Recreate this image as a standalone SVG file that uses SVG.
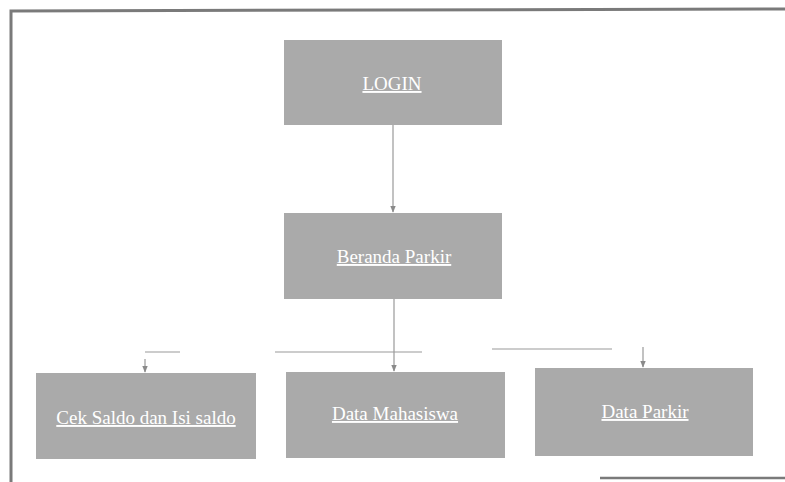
<svg xmlns="http://www.w3.org/2000/svg" width="785" height="482" viewBox="0 0 785 482">
<style>
.box{fill:#aaaaaa;}
.lbl{font-family:"Liberation Serif","Times New Roman",serif;font-size:19px;fill:#ffffff;text-anchor:middle;text-decoration:underline;}
.con{stroke:#999999;stroke-width:1.2;fill:none;}
.frame{stroke:#7a7a7a;stroke-width:3;fill:none;}
</style>
<defs>
<marker id="arr" viewBox="0 0 10 10" refX="9" refY="5" markerWidth="6" markerHeight="6" orient="auto">
<path d="M0,1 L10,5 L0,9 z" fill="#8a8a8a"/>
</marker>
</defs>
<rect width="785" height="482" fill="#ffffff"/>
<path class="frame" d="M11,482 L11,11 L785,9"/>
<line x1="600" y1="478" x2="785" y2="478" stroke="#7a7a7a" stroke-width="2.5"/>
<g id="connectors">
<line class="con" x1="393" y1="125" x2="393" y2="212" marker-end="url(#arr)"/>
<line class="con" x1="394" y1="299" x2="394" y2="371" marker-end="url(#arr)"/>
<line class="con" x1="145" y1="352" x2="180" y2="352"/>
<line class="con" x1="275" y1="352" x2="422" y2="352"/>
<line class="con" x1="492" y1="349" x2="612" y2="349"/>
<line class="con" x1="145" y1="359" x2="145" y2="372" marker-end="url(#arr)"/>
<line class="con" x1="643" y1="347" x2="643" y2="367" marker-end="url(#arr)"/>
</g>
<g id="login">
<rect class="box" x="284" y="40" width="218" height="85"/>
<text class="lbl" x="392" y="90">LOGIN</text>
</g>
<g id="beranda">
<rect class="box" x="284" y="213" width="218" height="86"/>
<text class="lbl" x="394" y="263">Beranda Parkir</text>
</g>
<g id="ceksaldo">
<rect class="box" x="36" y="373" width="220" height="86"/>
<text class="lbl" x="146" y="424">Cek Saldo dan Isi saldo</text>
</g>
<g id="mahasiswa">
<rect class="box" x="286" y="372" width="219" height="86"/>
<text class="lbl" x="395" y="420">Data Mahasiswa</text>
</g>
<g id="parkir">
<rect class="box" x="535" y="368" width="218" height="88"/>
<text class="lbl" x="645" y="418">Data Parkir</text>
</g>
</svg>
